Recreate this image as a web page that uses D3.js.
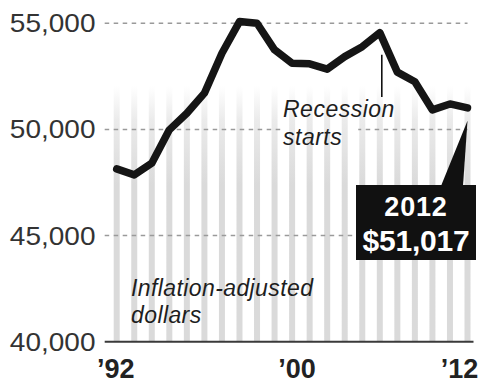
<!DOCTYPE html>
<html>
<head>
<meta charset="utf-8">
<script src="https://cdn.jsdelivr.net/npm/d3@7/dist/d3.min.js"></script>
<style>
  html, body { margin: 0; padding: 0; background: #fff; }
  svg { display: block; }
</style>
</head>
<body>
<svg id="chart" width="478" height="385"></svg>
<script>
// ---------- data ----------
const years   = [1992,1993,1994,1995,1996,1997,1998,1999,2000,2001,2002,2003,2004,2005,2006,2007,2008,2009,2010,2011,2012];
const incomes = [48140,47860,48410,49980,50760,51710,53590,55080,55000,53750,53120,53090,52840,53430,53900,54560,52700,52250,50920,51200,51017];
const yTicks  = [40000, 45000, 50000, 55000];
const xTickYears  = [1992, 2000, 2012];
const xTickLabels = ["\u201992", "\u201900", "\u201912"];
const recessionYear = 2007;
const calloutYear = 2012;
const calloutLines = ["2012", "$51,017"];
const noteLines = ["Inflation-adjusted", "dollars"];
const recessionLines = ["Recession", "starts"];

// ---------- layout ----------
const W = 478, H = 385;
const svg = d3.select("#chart");
const x = d3.scaleLinear().domain([1992, 2012]).range([116.7, 467.5]);
const y = d3.scaleLinear().domain([40000, 55000]).range([341.7, 23.3]);
const FONT = "'Liberation Sans', Arial, Helvetica, sans-serif";

const defs = svg.append("defs");
const grad = defs.append("linearGradient")
  .attr("id", "barFade").attr("gradientUnits", "userSpaceOnUse")
  .attr("x1", 0).attr("x2", 0).attr("y1", 86).attr("y2", 185);
grad.append("stop").attr("offset", 0).attr("stop-color", "#dadada").attr("stop-opacity", 0);
grad.append("stop").attr("offset", 0.35).attr("stop-color", "#dadada").attr("stop-opacity", 0.55);
grad.append("stop").attr("offset", 1).attr("stop-color", "#dadada").attr("stop-opacity", 1);

// ---------- year bars ----------
const barW = 6;
svg.append("g").selectAll("rect").data(years).join("rect")
  .attr("x", d => x(d) - barW / 2)
  .attr("width", barW)
  .attr("y", 86)
  .attr("height", y(40000) - 86)
  .attr("fill", "url(#barFade)");

// ---------- recession annotation text ----------
const recG = svg.append("g");
const recText = recG.append("text")
  .attr("font-family", FONT).attr("font-style", "italic")
  .attr("font-size", 23).attr("letter-spacing", 0.5).attr("fill", "#1e1e1e");
recText.selectAll("tspan").data(recessionLines).join("tspan")
  .attr("x", 283)
  .attr("y", (d, i) => 117 + i * 28)
  .text(d => d);

const startsBox = recText.selectAll("tspan").nodes()[1].getBBox();

// mask to knock gridline out around "starts"
const mask = defs.append("mask").attr("id", "gridMask").attr("maskUnits", "userSpaceOnUse")
  .attr("x", 0).attr("y", 0).attr("width", W).attr("height", H);
mask.append("rect").attr("x", 0).attr("y", 0).attr("width", W).attr("height", H).attr("fill", "#fff");
mask.append("rect")
  .attr("x", startsBox.x - 2).attr("y", startsBox.y)
  .attr("width", startsBox.width + 18).attr("height", startsBox.height)
  .attr("fill", "#000");

// ---------- gridlines ----------
const grid = svg.append("g").attr("mask", "url(#gridMask)");
grid.selectAll("line").data(yTicks.filter(d => d > 40000)).join("line")
  .attr("x1", x(1992) - 12).attr("x2", x(2012))
  .attr("y1", d => y(d)).attr("y2", d => y(d))
  .attr("stroke", "#9a9a9a").attr("stroke-width", 1.6)
  .attr("stroke-dasharray", "4.5,4.5");

// ---------- baseline ----------
svg.append("line")
  .attr("x1", x(1992) - 12).attr("x2", x(2012) + 6)
  .attr("y1", y(40000)).attr("y2", y(40000))
  .attr("stroke", "#3a3a3a").attr("stroke-width", 2);

// ---------- y tick labels ----------
const fmt = d3.format(",");
const yLab = svg.append("g").selectAll("text").data(yTicks).join("text")
  .attr("x", 95.5)
  .attr("y", d => y(d))
  .attr("dy", "0.36em")
  .attr("text-anchor", "end")
  .attr("font-family", FONT).attr("font-size", 25)
  .attr("fill", "#333")
  .text(d => fmt(d));
yLab.each(function () {
  const w = this.getComputedTextLength();
  d3.select(this).attr("textLength", w * 1.12).attr("lengthAdjust", "spacingAndGlyphs");
});

// ---------- x tick labels ----------
const xNudge = { 1992: -1, 2000: 40, 2012: -8 };
svg.append("g").selectAll("text").data(xTickYears).join("text")
  .attr("x", d => x(d) + xNudge[d])
  .attr("y", 377.5)
  .attr("text-anchor", "middle")
  .attr("font-family", FONT).attr("font-weight", "bold")
  .attr("font-size", 27).attr("fill", "#222")
  .text((d, i) => xTickLabels[i]);

// ---------- note ----------
const note = svg.append("text")
  .attr("font-family", FONT).attr("font-style", "italic")
  .attr("font-size", 23).attr("letter-spacing", 0.4).attr("fill", "#1e1e1e");
note.selectAll("tspan").data(noteLines).join("tspan")
  .attr("x", 131)
  .attr("y", (d, i) => 296 + i * 26.5)
  .text(d => d);

// ---------- recession leader line ----------
const recIdx = years.indexOf(recessionYear);
svg.append("line")
  .attr("x1", x(recessionYear) + 2).attr("x2", x(recessionYear) + 2)
  .attr("y1", y(incomes[recIdx]) + 22).attr("y2", 97)
  .attr("stroke", "#111").attr("stroke-width", 1.6);

// ---------- income line ----------
const line = d3.line().x((d, i) => x(years[i])).y(d => y(d));
svg.append("path")
  .datum(incomes)
  .attr("d", line)
  .attr("fill", "none")
  .attr("stroke", "#151515")
  .attr("stroke-width", 7.5)
  .attr("stroke-linejoin", "round")
  .attr("stroke-linecap", "round");

// ---------- callout ----------
const cIdx = years.indexOf(calloutYear);
const px = x(calloutYear), py = y(incomes[cIdx]);
const box = { x0: 356, x1: 476, y0: 185, y1: 260 };
svg.append("path")
  .attr("d", `M${px},${py + 13} L${box.x0 + 85},${box.y0 + 1} L${box.x0 + 107},${box.y0 + 1} Z`)
  .attr("fill", "#111");
svg.append("rect")
  .attr("x", box.x0).attr("y", box.y0)
  .attr("width", box.x1 - box.x0).attr("height", box.y1 - box.y0)
  .attr("fill", "#111");
const cx = (box.x0 + box.x1) / 2;
svg.append("text")
  .attr("x", cx).attr("y", 216)
  .attr("text-anchor", "middle")
  .attr("font-family", FONT).attr("font-weight", "bold")
  .attr("font-size", 27).attr("letter-spacing", 0.8).attr("fill", "#fff")
  .text(calloutLines[0]);
svg.append("text")
  .attr("x", cx).attr("y", 250.5)
  .attr("text-anchor", "middle")
  .attr("font-family", FONT).attr("font-weight", "bold")
  .attr("font-size", 30).attr("letter-spacing", -0.2).attr("fill", "#fff")
  .text(calloutLines[1]);

// keep recession text on top
recG.raise();
</script>
</body>
</html>
